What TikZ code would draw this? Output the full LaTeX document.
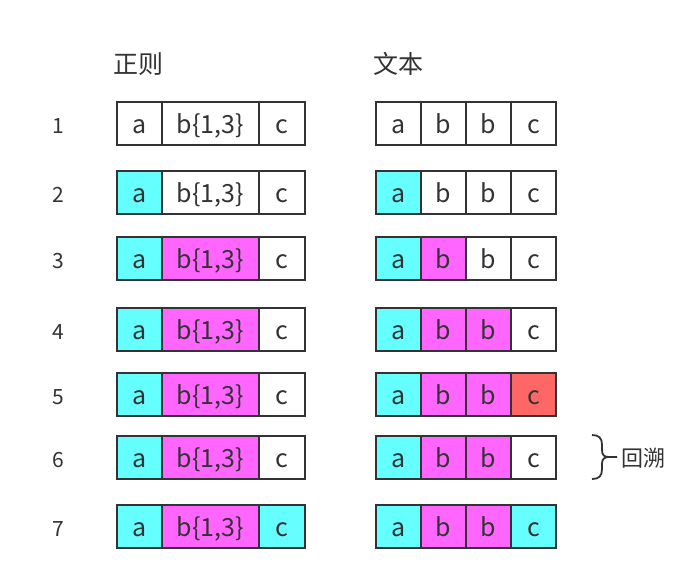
\documentclass[tikz,border=0pt]{standalone}
\usepackage{fontspec}
\setmainfont{Noto Sans CJK SC}
\definecolor{cy}{HTML}{66FFFF}
\definecolor{mg}{HTML}{FF66FF}
\definecolor{rd}{HTML}{FF6666}
\definecolor{ink}{HTML}{333333}
\tikzset{
  cell/.style={draw=ink, line width=2pt, inner sep=0pt, minimum height=43pt,
    text=ink, font=\fontsize{25}{25}\selectfont, text height=26pt, text depth=6pt},
  rowlbl/.style={anchor=base, inner sep=0pt, text=ink, font=\fontsize{21}{21}\selectfont},
  head/.style={anchor=base west, inner sep=0pt, text=ink, font=\fontsize{25}{25}\selectfont},
}
\begin{document}
\begin{tikzpicture}[x=1pt,y=-1pt]
\useasboundingbox[fill=white] (0,0) rectangle (676,579);
\node[head] (hre) at (113,73) {正则};
\node[head] (htx) at (373,73) {文本};
\foreach \r/\yc/\fa/\fb/\fc/\ga/\gb/\gc/\gd in {
  1/123/white/white/white/white/white/white/white,
  2/192.5/cy/white/white/cy/white/white/white,
  3/258.5/cy/mg/white/cy/mg/white/white,
  4/329.5/cy/mg/white/cy/mg/mg/white,
  5/394.5/cy/mg/white/cy/mg/mg/rd,
  6/457/cy/mg/white/cy/mg/mg/white,
  7/526.5/cy/mg/cy/cy/mg/mg/cy}{
  \node[rowlbl] (n\r) at (58,\yc+10) {\r};
  \node[cell, fill=\fa, minimum width=45pt] (L\r a) at (139.5,\yc) {a};
  \node[cell, fill=\fb, minimum width=97pt] (L\r b) at (210.5,\yc) {b\{1,3\}};
  \node[cell, fill=\fc, minimum width=46pt] (L\r c) at (282,\yc) {c};
  \node[cell, fill=\ga, minimum width=45pt] (R\r a) at (398.5,\yc) {a};
  \node[cell, fill=\gb, minimum width=45pt] (R\r b) at (443.5,\yc) {b};
  \node[cell, fill=\gc, minimum width=45pt] (R\r c) at (488.5,\yc) {b};
  \node[cell, fill=\gd, minimum width=45pt] (R\r d) at (533.5,\yc) {c};
}
\draw[ink, line width=1.8pt]
  (592,435) .. controls (599,435) and (602,438) .. (602,445) -- (602,450)
  .. controls (602,455) and (604,457) .. (609,457) -- (617,457);
\draw[ink, line width=1.8pt]
  (592,479) .. controls (599,479) and (602,476) .. (602,469) -- (602,464)
  .. controls (602,459) and (604,457) .. (609,457);
\node[head, font=\fontsize{22}{22}\selectfont] (bt) at (621,466) {回溯};
\end{tikzpicture}
\end{document}
